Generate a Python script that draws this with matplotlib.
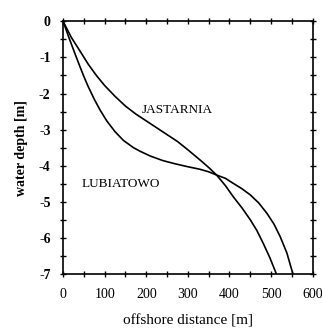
import matplotlib
matplotlib.use("Agg")
import matplotlib.pyplot as plt
from matplotlib.ticker import MultipleLocator

plt.rcParams['axes.unicode_minus'] = False

# profile readings (offshore distance [m], water depth [m])
jast_x = [0, 20, 41, 60, 80, 100, 125, 150, 175, 200, 225, 250, 275, 300,
          329, 350, 369, 390, 409, 430, 450, 466, 481, 497, 512]
jast_y = [0, -0.45, -0.83, -1.18, -1.5, -1.78, -2.08, -2.35, -2.57, -2.76,
          -2.95, -3.14, -3.33, -3.56, -3.84, -4.05, -4.26, -4.55, -4.86,
          -5.17, -5.5, -5.8, -6.15, -6.55, -6.98]

lub_x = [0, 14, 28, 40, 50, 60, 75, 89, 105, 125, 145, 169, 185, 209, 240,
         270, 300, 329, 350, 369, 390, 409, 430, 450, 470, 490, 507, 522,
         538, 552]
lub_y = [0, -0.45, -0.88, -1.24, -1.53, -1.8, -2.16, -2.46, -2.76, -3.06,
         -3.3, -3.5, -3.6, -3.73, -3.86, -3.95, -4.03, -4.1, -4.17, -4.26,
         -4.35, -4.49, -4.64, -4.81, -5.03, -5.32, -5.62, -5.97, -6.42, -6.98]

SERIF = ['Liberation Serif', 'DejaVu Serif']

fig = plt.figure(figsize=(3.22, 3.34), dpi=100)
ax = fig.add_axes([0.196, 0.180, 0.775, 0.756])

ax.plot(jast_x, jast_y, color='black', lw=1.2)
ax.plot(lub_x, lub_y, color='black', lw=1.2)

ax.text(189, -2.45, 'JASTARNIA', family=SERIF, fontsize=9.5, va='center')
ax.text(45, -4.52, 'LUBIATOWO', family=SERIF, fontsize=9.5, va='center')

ax.set_xlim(0, 600)
ax.set_ylim(-7, 0)
ax.xaxis.set_major_locator(MultipleLocator(100))
ax.xaxis.set_minor_locator(MultipleLocator(50))
ax.yaxis.set_major_locator(MultipleLocator(1))
ax.yaxis.set_minor_locator(MultipleLocator(0.5))

ax.tick_params(which='both', direction='inout', length=4, width=1,
               top=True, right=True)
ax.tick_params(axis='x', pad=8)
ax.tick_params(axis='y', pad=7)

for s in ax.spines.values():
    s.set_linewidth(1.2)

for lb in ax.get_xticklabels():
    lb.set_family(SERIF)
    lb.set_fontsize(10)
for lb in ax.get_yticklabels():
    lb.set_family(SERIF)
    lb.set_fontsize(10)
    lb.set_fontweight('bold')

ax.set_xlabel('offshore distance [m]', family=SERIF, fontsize=11, labelpad=10)
ax.set_ylabel('water depth [m]', family=SERIF, fontsize=10,
              fontweight='bold', labelpad=8)

fig.savefig('out.png', dpi=100)
